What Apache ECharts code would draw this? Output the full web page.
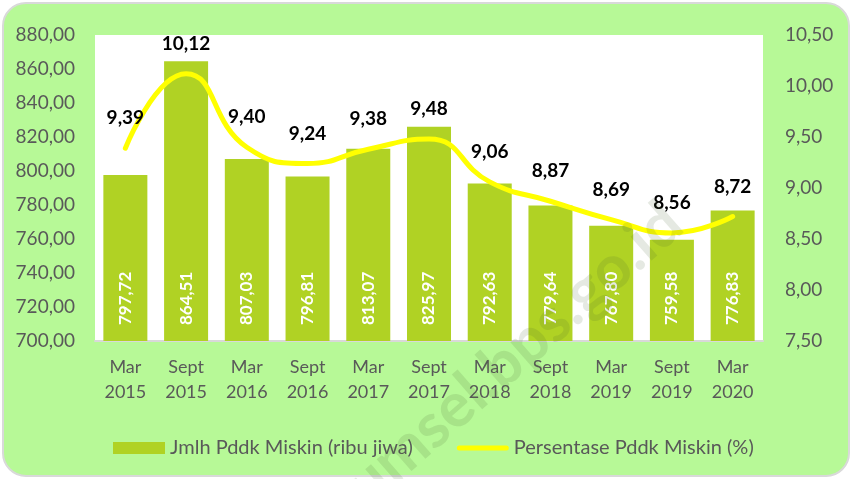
<!DOCTYPE html>
<html>
<head>
<meta charset="utf-8">
<script src="https://cdn.jsdelivr.net/npm/echarts@6/dist/echarts.min.js"></script>
<style>
  html, body { margin: 0; padding: 0; background: #ffffff; }
  .frame {
    position: absolute; left: 2px; top: 2px; width: 844px; height: 471px;
    border: 2px solid #d9d9d9; border-radius: 24px; background: #b7f997;
  }
  #chart { position: absolute; left: 0; top: 0; width: 852px; height: 479px; }
</style>
</head>
<body>
<div class="frame"></div>
<div id="chart"></div>
<script>
// periode survei
const periode = ['Mar\n2015', 'Sept\n2015', 'Mar\n2016', 'Sept\n2016', 'Mar\n2017', 'Sept\n2017',
  'Mar\n2018', 'Sept\n2018', 'Mar\n2019', 'Sept\n2019', 'Mar\n2020']
// jumlah penduduk miskin (ribu jiwa)
const jumlahMiskin = [797.72, 864.51, 807.03, 796.81, 813.07, 825.97, 792.63, 779.64, 767.80, 759.58, 776.83]
// persentase penduduk miskin (%)
const persenMiskin = [9.39, 10.12, 9.40, 9.24, 9.38, 9.48, 9.06, 8.87, 8.69, 8.56, 8.72]

const fmt = v => Number(v).toFixed(2).replace('.', ',')
const font = 'Lato, "Open Sans", sans-serif'

const chart = echarts.init(document.getElementById('chart'))

const option = {
  backgroundColor: 'transparent',
  textStyle: { fontFamily: font },
  grid: {
    left: 95, right: 89, top: 35, bottom: 138,
    show: true, backgroundColor: '#ffffff', borderWidth: 0
  },
  legend: {
    left: 108, top: 433,
    itemWidth: 52, itemHeight: 12, itemGap: 44,
    textStyle: { fontFamily: font, fontSize: 20, color: '#595959' },
    data: [
      { name: 'Jmlh Pddk Miskin (ribu jiwa)', icon: 'rect' },
      // garis kuning tebal, ujung membulat
      { name: 'Persentase Pddk Miskin (%)', icon: 'path://M0,0 M2.5,3.5 L49.5,3.5 A2.5,2.5 0 0 1 49.5,8.5 L2.5,8.5 A2.5,2.5 0 0 1 2.5,3.5 Z M52,12' }
    ]
  },
  xAxis: {
    type: 'category',
    data: periode,
    axisTick: { show: false },
    axisLine: { lineStyle: { color: '#d9d9d9', width: 2 } },
    axisLabel: { fontFamily: font, fontSize: 18, color: '#595959', lineHeight: 25, margin: 14 }
  },
  yAxis: [
    {
      type: 'value', min: 700, max: 880, interval: 20,
      splitLine: { show: false },
      axisLabel: { fontFamily: font, fontSize: 19, color: '#595959', margin: 20, formatter: fmt }
    },
    {
      type: 'value', min: 7.5, max: 10.5, interval: 0.5,
      splitLine: { show: false },
      axisLabel: { fontFamily: font, fontSize: 19, color: '#595959', margin: 22, formatter: fmt }
    }
  ],
  series: [
    {
      name: 'Jmlh Pddk Miskin (ribu jiwa)',
      type: 'bar',
      data: jumlahMiskin,
      barWidth: 44,
      itemStyle: { color: '#b0d224' },
      label: {
        show: true,
        position: 'insideBottom',
        rotate: 90,
        align: 'left',
        verticalAlign: 'middle',
        distance: 16,
        color: '#ffffff',
        fontFamily: font,
        fontSize: 17,
        fontWeight: 'bold',
        formatter: p => fmt(p.value)
      }
    },
    {
      name: 'Persentase Pddk Miskin (%)',
      type: 'line',
      yAxisIndex: 1,
      data: persenMiskin,
      smooth: 0.5,
      symbol: 'circle',
      symbolSize: 1,
      showSymbol: true,
      lineStyle: { color: '#ffff00', width: 5, cap: 'round' },
      itemStyle: { color: '#ffff00' },
      label: {
        show: true,
        position: 'top',
        distance: 20,
        color: '#000000',
        fontFamily: font,
        fontSize: 19,
        fontWeight: 'bold',
        formatter: p => fmt(p.value)
      },
      z: 3
    }
  ],
  graphic: [
    {
      type: 'text',
      x: 694, y: 238,
      rotation: 0.72,
      z: 100,
      silent: true,
      style: {
        text: 'sumsel.bps.go.id',
        fontFamily: font,
        fontSize: 62,
        fontWeight: 'bold',
        fill: 'rgba(70, 100, 50, 0.14)',
        textAlign: 'right',
        textVerticalAlign: 'bottom'
      }
    }
  ]
}

chart.setOption(option)
</script>
</body>
</html>
